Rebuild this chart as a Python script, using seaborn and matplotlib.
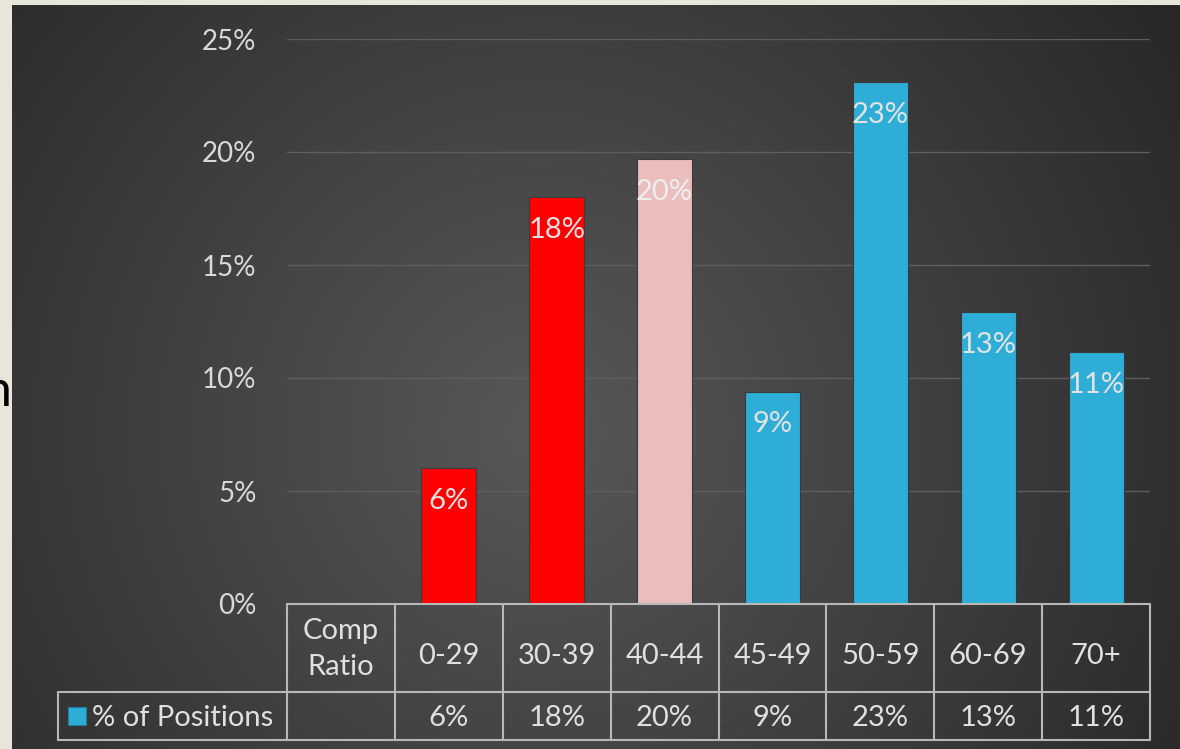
import numpy as np
import matplotlib
matplotlib.use("Agg")
import matplotlib.pyplot as plt
import matplotlib.transforms as mtransforms
from matplotlib.patches import Rectangle
import seaborn as sns
import pandas as pd

# ---------------- data ----------------
categories = ["0-29", "30-39", "40-44", "45-49", "50-59", "60-69", "70+"]
values = [0.060, 0.180, 0.197, 0.094, 0.231, 0.129, 0.1115]
value_labels = ["6%", "18%", "20%", "9%", "23%", "13%", "11%"]
bar_colors = ["#ff0000", "#ff0000", "#ecbdbd", "#2eaed6", "#2eaed6", "#2eaed6", "#2eaed6"]
label_colors = ["#e2e2e2", "#e2e2e2", "#eeeeee", "#e2e2e2", "#e2e2e2", "#e2e2e2", "#e2e2e2"]
yticks = [0.0, 0.05, 0.10, 0.15, 0.20, 0.25]
ytick_labels = ["0%", "5%", "10%", "15%", "20%", "25%"]
header_label = "Comp\nRatio"
series_name = "% of Positions"
series_color = "#2eaed6"

W, H = 1180, 749
sns.set_theme(style="dark")
plt.rcParams["font.family"] = ["Lato", "DejaVu Sans"]

fig = plt.figure(figsize=(W / 100, H / 100), dpi=100)
fig.patch.set_facecolor("#e8e5da")

# partial text from the slide behind (clipped at the left edge, as in the reference)
fig.text(11 / W, 1 - 392 / H, "n", ha="right", va="center", fontsize=36, color="black")

# ---------------- dark gradient background ----------------
bx0, by0 = 12, 5
bg = fig.add_axes([bx0 / W, 0, 1 - bx0 / W, (H - by0) / H])
bg.set_zorder(-5)
gw, gh = W - bx0, H - by0
yy, xx = np.mgrid[0:gh, 0:gw]
xx = xx + bx0
yy = yy + by0
cx, cy, R = 540, 430, 820
d = np.clip(np.sqrt((xx - cx) ** 2 + (yy - cy) ** 2) / R, 0, 1)
c_in = np.array([0x58, 0x58, 0x58]) / 255
c_out = np.array([0x24, 0x24, 0x24]) / 255
img = c_in[None, None, :] * (1 - d[..., None]) + c_out[None, None, :] * d[..., None]
bg.imshow(img, aspect="auto", interpolation="bilinear")
bg.axis("off")

# ---------------- main chart ----------------
ax = fig.add_axes([287 / W, (H - 604) / H, 863 / W, 565 / H])
ax.set_facecolor("none")
df = pd.DataFrame({"cat": categories, "val": values})
sns.barplot(data=df, x="cat", y="val", hue="cat", palette=bar_colors, width=0.51,
            saturation=1, legend=False, ax=ax, edgecolor="#3a3a3a", linewidth=0.8)
ax.set_xlim(-1.5, len(categories) - 0.5)
ax.set_ylim(0, 0.25)
ax.set_yticks(yticks)
ax.set_yticklabels(ytick_labels, color="#d9d9d9", fontsize=20)
ax.tick_params(axis="y", length=0, pad=22)
ax.tick_params(axis="x", length=0, labelbottom=False)
ax.set_xlabel("")
ax.set_ylabel("")
for s in ax.spines.values():
    s.set_visible(False)
ax.yaxis.grid(True, color="#5e5e5e", lw=1)
ax.xaxis.grid(False)
ax.set_axisbelow(True)

for i, cont in enumerate(ax.containers):
    ax.bar_label(cont, labels=[value_labels[i]], padding=-33, color=label_colors[i],
                 fontsize=21)

# ---------------- data table ----------------
tr = mtransforms.blended_transform_factory(ax.transData, ax.transAxes)
ppx = 1 / 565.0
r1 = -88 * ppx
r2 = -136 * ppx
leg_left = -229 / 863.0
lc = "#b8b8b8"
lw = 1.5
xb = np.arange(-1.5, len(categories), 1.0)
ax.plot([0, 1], [0, 0], transform=ax.transAxes, color=lc, lw=lw, clip_on=False)
ax.plot([leg_left, 1], [r1, r1], transform=ax.transAxes, color=lc, lw=lw, clip_on=False)
ax.plot([leg_left, 1], [r2, r2], transform=ax.transAxes, color=lc, lw=lw, clip_on=False)
ax.plot([leg_left, leg_left], [r1, r2], transform=ax.transAxes, color=lc, lw=lw, clip_on=False)
for xv in xb:
    ax.plot([xv, xv], [0, r2], transform=tr, color=lc, lw=lw, clip_on=False)

tc = "#e0e0e0"
ax.text(-1, -45 * ppx, header_label, transform=tr, ha="center", va="center",
        color=tc, fontsize=21, linespacing=1.45)
for i, c in enumerate(categories):
    ax.text(i, -52 * ppx, c, transform=tr, ha="center", va="center", color=tc, fontsize=21)
    ax.text(i, -114 * ppx, value_labels[i], transform=tr, ha="center", va="center",
            color=tc, fontsize=21)

ax.add_patch(Rectangle(((68 - 287) / 863, -(725 - 604) * ppx), 18 / 863, 18 * ppx,
                       transform=ax.transAxes, facecolor=series_color, edgecolor="#1d7f9c",
                       lw=0.8, clip_on=False))
ax.text((92 - 287) / 863, -114 * ppx, series_name, transform=ax.transAxes, ha="left",
        va="center", color=tc, fontsize=21)

fig.savefig("out.png", dpi=100, facecolor=fig.get_facecolor())
